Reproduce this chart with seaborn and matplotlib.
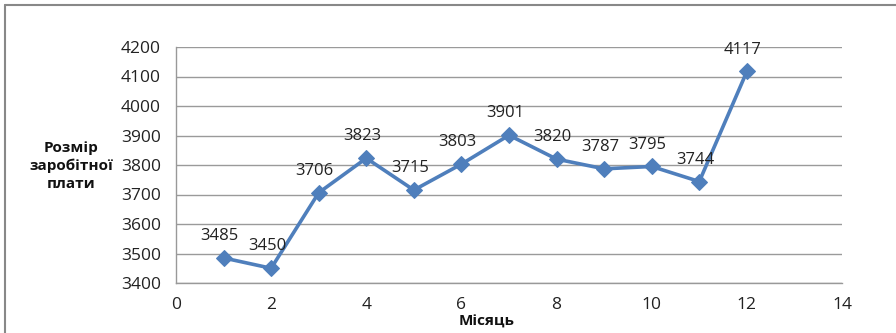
import numpy as np
import pandas as pd
import seaborn as sns
import matplotlib.pyplot as plt
from matplotlib.lines import Line2D

# Data
months = [1, 2, 3, 4, 5, 6, 7, 8, 9, 10, 11, 12]
salary = [3485, 3450, 3706, 3823, 3715, 3803, 3901, 3820, 3787, 3795, 3744, 4117]
x_ticks = [0, 2, 4, 6, 8, 10, 12, 14]
y_ticks = [3400, 3500, 3600, 3700, 3800, 3900, 4000, 4100, 4200]

df = pd.DataFrame({'month': months, 'salary': salary})

sns.set_style('white')
plt.rcParams['font.family'] = ['Open Sans', 'DejaVu Sans']

fig = plt.figure(figsize=(8.96, 3.33), dpi=100)
ax = fig.add_axes([176 / 896, 1 - 283 / 333, (842 - 176) / 896, (283 - 47) / 333])

color = '#4F7FBC'
sns.lineplot(data=df, x='month', y='salary', ax=ax, color=color,
             linewidth=2.6, marker='D', markersize=8.5, markeredgecolor=color)

for m, s in zip(months, salary):
    ax.annotate(str(s), (m, s), xytext=(-3, 10), textcoords='offset points',
                ha='center', va='bottom', fontsize=12, color='#222222')

ax.set_xlim(0, 14)
ax.set_ylim(3400, 4200)
ax.set_xticks(x_ticks)
ax.set_yticks(y_ticks)
ax.tick_params(axis='both', labelsize=12.5, colors='#222222', length=5,
               width=1, direction='out')
ax.tick_params(axis='x', color='#999999', pad=5)
ax.tick_params(axis='y', color='#999999', pad=6)
ax.yaxis.grid(True, color='#9a9a9a', linewidth=1)
ax.xaxis.grid(False)
for side in ['top', 'right']:
    ax.spines[side].set_visible(False)
for side in ['left', 'bottom']:
    ax.spines[side].set_color('#999999')
    ax.spines[side].set_linewidth(1)

ax.set_xlabel('')
ax.set_ylabel('')
fig.text(71 / 896, 1 - 166 / 333, 'Розмір\nзаробітної\nплати', ha='center',
         va='center', fontsize=11, fontweight='bold', linespacing=1.35,
         color='#111111')
fig.text(487 / 896, 1 - 322 / 333, 'Місяць', ha='center', va='center',
         fontsize=11, fontweight='bold', color='#111111')

# outer frame (top and left edges visible)
fig.add_artist(Line2D([5 / 896, 1], [1 - 4.5 / 333, 1 - 4.5 / 333],
                      transform=fig.transFigure, color='#888888', linewidth=1.5))
fig.add_artist(Line2D([5 / 896, 5 / 896], [0, 1 - 4.5 / 333],
                      transform=fig.transFigure, color='#888888', linewidth=1.5))

plt.savefig('out.png', dpi=100)
plt.close()
